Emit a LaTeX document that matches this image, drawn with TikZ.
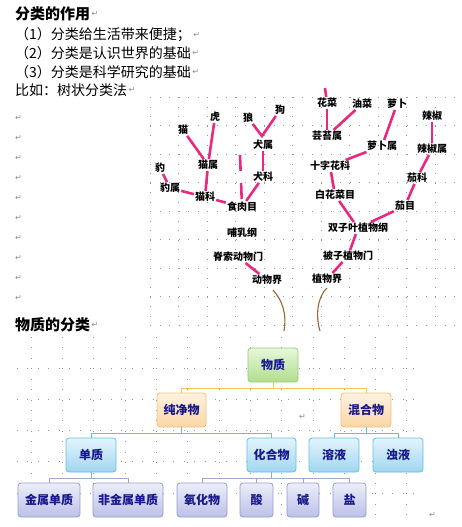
\documentclass[tikz,border=0pt]{standalone}
\usepackage{fontspec}
\setmainfont{Noto Sans CJK SC}
\newfontfamily\dejavu{DejaVu Sans}
\usetikzlibrary{calc}
\definecolor{pinkc}{RGB}{234,40,128}
\definecolor{trunkc}{RGB}{150,100,55}
\definecolor{dotc}{RGB}{150,150,150}
\definecolor{navy}{RGB}{25,25,140}
\definecolor{markc}{RGB}{140,140,140}
\definecolor{cgoldc}{RGB}{240,200,90}
\definecolor{ctealc}{RGB}{90,195,215}
\definecolor{clavc}{RGB}{160,165,205}
\definecolor{gtop}{RGB}{232,247,220}\definecolor{gbot}{RGB}{176,222,140}\definecolor{gbrd}{RGB}{150,205,120}
\definecolor{otop}{RGB}{255,242,225}\definecolor{obot}{RGB}{250,214,165}\definecolor{obrd}{RGB}{240,195,120}
\definecolor{btop}{RGB}{228,244,252}\definecolor{bbot}{RGB}{160,214,240}\definecolor{bbrd}{RGB}{100,190,225}
\definecolor{ltop}{RGB}{236,238,250}\definecolor{lbot}{RGB}{188,192,232}\definecolor{lbrd}{RGB}{150,156,205}
\begin{document}
\begin{tikzpicture}[x=1pt,y=-1pt,
  bodytext/.style={anchor=west,inner sep=0pt,font=\fontsize{14}{16}\selectfont},
  headtext/.style={anchor=west,inner sep=0pt,font=\fontsize{15}{17}\selectfont\bfseries},
  retmark/.style={anchor=west,inner sep=0pt,text=markc,font=\dejavu\fontsize{8}{8}\selectfont},
  tlabel/.style={inner sep=1pt,font=\fontsize{10}{11}\selectfont\bfseries},
  twig/.style={draw=pinkc,line width=2.6pt},
  trunk/.style={draw=trunkc,line width=1.1pt},
  dotrow/.style={draw=dotc,line width=0.9pt,dash pattern=on 0.9pt off 8.6pt},
  dotrowb/.style={draw=dotc,line width=0.9pt,dash pattern=on 0.9pt off 9.53pt},
  boxbase/.style={rounded corners=3pt,minimum height=34pt,inner sep=0pt,line width=0.8pt,
    text=navy,font=\fontsize{12}{13}\selectfont\bfseries},
  boxgreen/.style={boxbase,top color=gtop,bottom color=gbot,draw=gbrd},
  boxorange/.style={boxbase,top color=otop,bottom color=obot,draw=obrd},
  boxblue/.style={boxbase,top color=btop,bottom color=bbot,draw=bbrd},
  boxlav/.style={boxbase,top color=ltop,bottom color=lbot,draw=lbrd},
  cgold/.style={draw=cgoldc,line width=0.9pt},
  cteal/.style={draw=ctealc,line width=0.9pt},
  clav/.style={draw=clavc,line width=0.9pt}]
\useasboundingbox (0,0) rectangle (461,527);

% ---------- dotted canvas grids ----------
\foreach \k in {0,...,8} \draw[dotrow] (150,97+28.5*\k) -- (457,97+28.5*\k);
\foreach \k in {0,...,10} \draw[dotrow] (150+28.5*\k,97) -- (150+28.5*\k,325);
\foreach \k in {0,...,4} \draw[dotrowb] (17,368+31.3*\k) -- (423,368+31.3*\k);
\foreach \k in {1,...,13} \draw[dotrowb] (31.3*\k,337) -- (31.3*\k,522);

% ---------- text lines ----------
\node[headtext] (h1) at (15,14) {分类的作用};
\node[bodytext] (l1) at (15,35) {（1）分类给生活带来便捷；};
\node[bodytext] (l2) at (15,53) {（2）分类是认识世界的基础};
\node[bodytext] (l3) at (15,72) {（3）分类是科学研究的基础};
\node[bodytext] (l4) at (15,90) {比如：树状分类法};
\node[headtext] (h2) at (15,325) {物质的分类};
\node[retmark] (m0) at ($(h1.east)+(1,0)$) {↵};
\node[retmark] (m1) at ($(l1.east)+(2,0)$) {↵};
\node[retmark] (m2) at ($(l2.east)+(1,0)$) {↵};
\node[retmark] (m3) at ($(l3.east)+(1,0)$) {↵};
\node[retmark] (m4) at ($(l4.east)+(1,0)$) {↵};
\node[retmark] (m5) at ($(h2.east)+(1,0)$) {↵};
\foreach \i in {0,...,9} \node[retmark] (r\i) at (15,118+20*\i) {↵};
\node[retmark] (m6) at (299,417) {↵};
\node[retmark] (m7) at (429,515) {↵};

% ---------- animal tree ----------
\node[tlabel] (hu) at (215,117) {虎};
\node[tlabel] (mao) at (183,130) {猫};
\node[tlabel] (lang) at (248,118) {狼};
\node[tlabel] (gou) at (280,110) {狗};
\node[tlabel] (qs) at (263,145) {犬属};
\node[tlabel] (ms) at (208,165) {猫属};
\node[tlabel] (bao) at (160,168) {豹};
\node[tlabel] (qk) at (263,177) {犬科};
\node[tlabel] (bs) at (170,188) {豹属};
\node[tlabel] (mk) at (205,197) {猫科};
\node[tlabel] (sry) at (242,207) {食肉目};
\node[tlabel] (brg) at (242,233) {哺乳纲};
\node[tlabel] (jsdwm) at (238,257) {脊索动物门};
\node[tlabel] (dwj) at (267,280) {动物界};

\draw[twig] (mao) -- (ms);
\draw[twig] (hu) -- (ms);
\draw[twig] (ms) -- (mk);
\draw[twig] (bao) -- (bs);
\draw[twig] (bs) -- (mk);
\draw[twig] (mk) -- (sry);
\draw[twig] (qk) -- (sry);
\draw[twig] (qs) -- (qk);
\coordinate (qv) at (262,136);
\draw[twig] (lang) -- (qv) -- (gou);
\coordinate (srtop) at (240,155);
\draw[twig,dash pattern=on 16pt off 12pt] (srtop) -- (sry);
\draw[twig] (jsdwm) -- (dwj);
\coordinate (dt1) at (273,290);
\coordinate (dt2) at (284,331);
\draw[trunk] (dt1) .. controls (282,300) and (287,313) .. (dt2);

% ---------- plant tree ----------
\node[tlabel] (hc) at (327,103) {花菜};
\node[tlabel] (yc) at (362,104) {油菜};
\node[tlabel] (lb) at (397,104) {萝卜};
\node[tlabel] (lj) at (432,116) {辣椒};
\node[tlabel] (yts) at (327,136) {芸苔属};
\node[tlabel] (lbs) at (382,146) {萝卜属};
\node[tlabel] (ljs) at (432,149) {辣椒属};
\node[tlabel] (szhk) at (330,166) {十字花科};
\node[tlabel] (qke) at (417,178) {茄科};
\node[tlabel] (bhcm) at (335,195) {白花菜目};
\node[tlabel] (qm) at (405,206) {茄目};
\node[tlabel] (szy) at (358,228) {双子叶植物纲};
\node[tlabel] (bzzwm) at (348,256) {被子植物门};
\node[tlabel] (zwj) at (327,279) {植物界};

\coordinate (hctop) at (325,88);
\draw[twig] (hctop) -- (hc);
\draw[twig] (hc) -- (yts);
\draw[twig] (yc) -- (yts);
\draw[twig] (lb) -- (lbs);
\draw[twig] (lbs) -- (szhk);
\draw[twig] (lj) -- (ljs);
\draw[twig] (ljs) -- (qke);
\draw[twig] (qke) -- (qm);
\draw[twig] (szhk) -- (bhcm);
\draw[twig] (bhcm) -- (szy);
\draw[twig] (qm) -- (szy);
\draw[twig] (szy) -- (bzzwm);
\draw[twig] (bzzwm) -- (zwj);
\coordinate (pt1) at (327,288);
\coordinate (pt2) at (320,331);
\draw[trunk] (pt1) .. controls (318,296) and (315,315) .. (pt2);

% ---------- classification of matter ----------
\node[boxgreen,minimum width=50pt] (wz) at (273,365) {物质};
\node[boxorange,minimum width=49pt] (cjw) at (181.5,410) {纯净物};
\node[boxorange,minimum width=50pt] (hhw) at (366,410) {混合物};
\node[boxblue,minimum width=50pt] (dz) at (91,455) {单质};
\node[boxblue,minimum width=49pt] (hhw2) at (271.5,455) {化合物};
\node[boxblue,minimum width=50pt] (ry) at (334,455) {溶液};
\node[boxblue,minimum width=50pt] (zy) at (398,455) {浊液};
\node[boxlav,minimum width=62pt] (jsdz) at (49,500) {金属单质};
\node[boxlav,minimum width=70pt] (fjsdz) at (128,500) {非金属单质};
\node[boxlav,minimum width=50pt] (yhw) at (202,500) {氧化物};
\node[boxlav,minimum width=33pt] (suan) at (256.5,500) {酸};
\node[boxlav,minimum width=32pt] (jian) at (303,500) {碱};
\node[boxlav,minimum width=33pt] (yan) at (349.5,500) {盐};

\draw[cgold] (wz.south) -- ++(0,6) -| (cjw.north);
\draw[cgold] (wz.south) -- ++(0,6) -| (hhw.north);
\draw[cteal] (cjw.south) -- ++(0,6) -| (dz.north);
\draw[cteal] (cjw.south) -- ++(0,6) -| (hhw2.north);
\draw[cteal] (hhw.south) -- ++(0,6) -| (ry.north);
\draw[cteal] (hhw.south) -- ++(0,6) -| (zy.north);
\draw[clav] (dz.south) -- ++(0,6) -| (jsdz.north);
\draw[clav] (dz.south) -- ++(0,6) -| (fjsdz.north);
\draw[clav] (hhw2.south) -- ++(0,6) -| (yhw.north);
\draw[clav] (hhw2.south) -- ++(0,6) -| (suan.north);
\draw[clav] (hhw2.south) -- ++(0,6) -| (jian.north);
\draw[clav] (hhw2.south) -- ++(0,6) -| (yan.north);
\end{tikzpicture}
\end{document}
